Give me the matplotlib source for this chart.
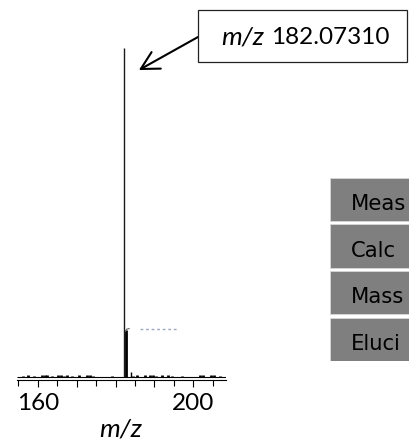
import matplotlib
matplotlib.use("Agg")
import matplotlib.pyplot as plt
from matplotlib.patches import Rectangle
from matplotlib.ticker import FixedLocator, FixedFormatter

# ---------------- data ----------------
peak_mz = [182.07, 182.57, 183.95]
peak_int = [100.0, 14.4, 1.6]

noise_mz = [156.2, 157.5, 159.0, 161.0, 161.8, 162.4, 163.6, 165.2, 166.0, 166.7,
            167.6, 168.9, 170.6, 172.8, 173.5, 174.2, 179.0, 184.5, 185.6, 187.6,
            188.8, 189.6, 190.4, 191.9, 193.5, 194.4, 197.1, 201.6, 202.5, 204.6,
            205.4, 206.9]
noise_int = [0.5, 0.6, 0.5, 0.6, 0.7, 0.6, 0.5, 0.6, 0.6, 0.5,
             0.6, 0.5, 0.6, 0.7, 0.6, 0.5, 0.5, 0.5, 0.6, 0.6,
             0.7, 0.6, 0.5, 0.6, 0.6, 0.5, 0.5, 0.6, 0.7, 0.6,
             0.6, 0.5]

hook_mz = [182.62, 182.85, 183.5]
hook_int = [14.0, 14.6, 14.8]

label_trace_mz = [186.4, 195.9]
label_trace_int = [14.7, 14.7]

x_limits = [154.68, 208.4]
major_ticks = [160, 170, 180, 190, 200]
major_labels = ["160", "", "", "", "200"]
minor_ticks = [155, 165, 175, 185, 195, 205]

annot_label = "182.07310"
annot_target = (186.0, 93.3)

# visible (cropped) parts of the table row headers
table_rows = ["Meas", "Calc", "Mass", "Eluci"]

# ---------------- figure ----------------
W, H = 409, 443
fig = plt.figure(figsize=(W / 100, H / 100), dpi=100)
fig.patch.set_facecolor("white")

def fx(x):
    return x / W

def fy(y):
    return 1 - y / H

FONT = "Lato"

# main spectrum axes
ax = fig.add_axes([fx(17), fy(379.7), (226 - 17) / W, (379.7 - 48) / H])
ax.set_xlim(*x_limits)
ax.set_ylim(-0.73, 100)
for s in ("left", "right", "top"):
    ax.spines[s].set_visible(False)
ax.spines["bottom"].set_linewidth(0.8)
ax.set_yticks([])

# baseline of spectrum
ax.plot(x_limits, [0, 0], color="black", lw=0.8, solid_capstyle="butt")
# noise
ax.vlines(noise_mz, 0, noise_int, color="black", lw=2.0)
# peaks
ax.vlines(peak_mz[0], 0, peak_int[0], color="#1a1a1a", lw=1.0)
ax.vlines(peak_mz[1], 0, peak_int[1], color="black", lw=2.0)
ax.vlines(peak_mz[2], 0, peak_int[2], color="black", lw=1.0)
ax.plot(hook_mz, hook_int, color="#666666", lw=0.8)
ax.plot(label_trace_mz, label_trace_int, color="#9aa8c0", lw=1.0, ls=(0, (2, 2)))

ax.xaxis.set_major_locator(FixedLocator(major_ticks))
ax.xaxis.set_major_formatter(FixedFormatter(major_labels))
ax.xaxis.set_minor_locator(FixedLocator(minor_ticks))
ax.tick_params(axis="x", which="major", direction="out", length=5.3, width=0.8,
               pad=4.0, labelsize=17.5)
ax.tick_params(axis="x", which="minor", direction="out", length=4.3, width=0.8)
for lab in ax.get_xticklabels():
    lab.set_fontfamily(FONT)

ax.set_xlabel("m/z", fontfamily=FONT, fontstyle="italic", fontsize=19)
ax.xaxis.set_label_coords((120.5 - 17) / 209, (379.7 - 417) / 331.7)

# annotation box + arrow
fig.add_artist(Rectangle((fx(198), fy(62)), (407 - 198) / W, (62 - 10) / H,
                         transform=fig.transFigure, facecolor="white",
                         edgecolor="#222222", lw=0.9))
fig.text(fx(221), fy(44), "m/z", fontfamily=FONT, fontstyle="italic",
         fontsize=19, va="baseline", ha="left")
fig.text(fx(271), fy(44), annot_label, fontfamily=FONT, fontsize=17.5,
         va="baseline", ha="left")
ax.annotate("", xy=annot_target, xycoords="data",
            xytext=(fx(198), fy(37)), textcoords="figure fraction",
            arrowprops=dict(arrowstyle="->,head_length=12.7,head_width=6.8",
                            mutation_scale=1, lw=1.5, color="black",
                            shrinkA=0, shrinkB=0))

# table-like boxes on the right
tax_w = 0.4
tax = fig.add_axes([fx(330), fy(361), tax_w, (361 - 177.7) / H])
tax.set_xlim(0, 1)
tax.set_ylim(len(table_rows) - 1 + 0.4625, -0.4625)
tax.axis("off")
rows = list(range(len(table_rows)))
tax.barh(rows, [1] * len(rows), height=0.925, left=0, color="#7f7f7f",
         edgecolor="#d8d8d8", linewidth=0.6)
for i, t in zip(rows, table_rows):
    tax.text(21 / (tax_w * W), i + 0.227, t, fontfamily="DejaVu Sans",
             fontsize=15.2, color="black", va="baseline", ha="left")

fig.savefig("out.png", dpi=100)
